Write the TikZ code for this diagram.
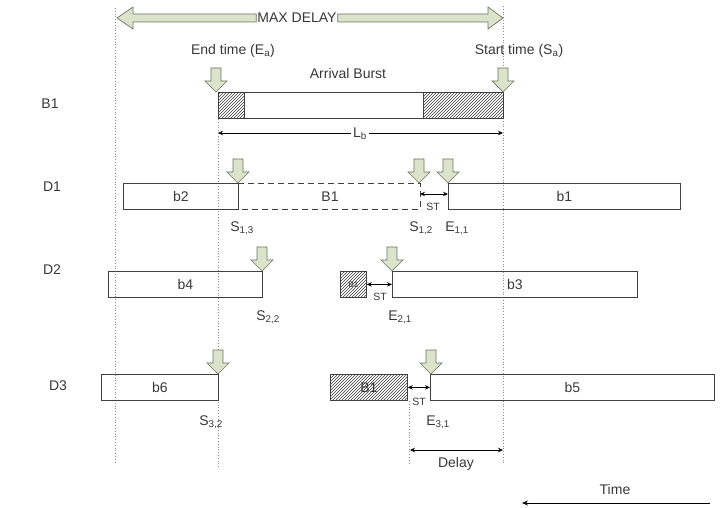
\documentclass[tikz,border=0pt]{standalone}
\usepackage{fontspec}
\setmainfont{Liberation Sans}
\usetikzlibrary{patterns,arrows.meta}
\definecolor{blkfill}{HTML}{DDE3CB}
\definecolor{blkline}{HTML}{6E7262}
\definecolor{boxline}{HTML}{404040}
\begin{document}
\begin{tikzpicture}[x=1pt,y=-1pt,
  lbl/.style={font=\fontsize{14}{16}\selectfont, text=black!78, inner sep=1pt},
  slbl/.style={font=\fontsize{10.5}{12}\selectfont, text=black!78, inner sep=0.5pt},
  box/.style={draw=boxline, line width=0.8pt, rectangle, minimum height=26pt, anchor=north west, inner sep=0pt, font=\fontsize{14}{16}\selectfont, text=black!78},
  hatch/.style={box, pattern=north east lines, pattern color=black!75},
  dots/.style={draw=black!45, line width=0.8pt, dotted},
  dimarr/.style={line width=0.9pt, {Stealth[length=5pt,width=4.5pt]}-{Stealth[length=5pt,width=4.5pt]}},
  blk/.style={fill=blkfill, draw=blkline, line width=0.7pt, line join=miter},
  dnarrow/.pic={\draw[blk] (0,0) -- (-11,-11) -- (-5,-11) -- (-5,-24) -- (5,-24) -- (5,-11) -- (11,-11) -- cycle;}
]
\useasboundingbox (0,0) rectangle (721,508);

% dotted guides
\draw[dots] (115,8) -- (115,462);
\draw[dots] (218,119) -- (218,467);
\draw[dots] (503,6) -- (503,464);
\draw[dots] (409,401) -- (409,464);

% MAX DELAY block arrow
\node[lbl] (maxd) at (297,18) {MAX DELAY};
\draw[blk] (maxd.west |- 0,14) -- (133,14) -- (133,7) -- (117,18) -- (133,29) -- (133,22) -- (maxd.west |- 0,22) -- cycle;
\draw[blk] (maxd.east |- 0,14) -- (488,14) -- (488,7) -- (503,18) -- (488,29) -- (488,22) -- (maxd.east |- 0,22) -- cycle;

% top labels
\node[lbl] (endt) at (233,51) {End time (E\textsubscript{a})};
\node[lbl] (startt) at (519,51) {Start time (S\textsubscript{a})};
\node[lbl] (arrb) at (348,73) {Arrival Burst};

% row labels
\node[lbl] (rB1) at (50,104) {B1};
\node[lbl] (rD1) at (52,187) {D1};
\node[lbl] (rD2) at (52,270) {D2};
\node[lbl] (rD3) at (58,386) {D3};

% arrival burst
\node[hatch, minimum width=26pt] (ab1) at (218,92) {};
\node[box, minimum width=179pt] (ab2) at (244,92) {};
\node[hatch, minimum width=80pt] (ab3) at (423,92) {};
\pic at (216,92) {dnarrow};
\pic at (503,92) {dnarrow};
\coordinate (lbL) at (218,133);
\coordinate (lbR) at (503,133);
\draw[dimarr] (lbL) -- (lbR);
\node[lbl, fill=white, inner sep=2pt] (lb) at (360,134) {L\textsubscript{b}};

% D1
\node[box, minimum width=115pt] (b2) at (123,183) {b2};
\draw[boxline, line width=0.8pt, dash pattern=on 6pt off 4pt] (238,183) -- (420,183) -- (420,209) -- (238,209);
\node[lbl] (B1d) at (330,197) {B1};
\node[box, minimum width=232pt] (b1) at (448,183) {b1};
\coordinate (st1a) at (420,194);
\draw[dimarr] (st1a) -- (b1.west |- st1a);
\node[slbl] (st1) at (433,207) {ST};
\pic at (238,183) {dnarrow};
\pic at (419,183) {dnarrow};
\pic at (448,183) {dnarrow};
\node[lbl] (s13) at (242,228) {S\textsubscript{1,3}};
\node[lbl] (s12) at (421,228) {S\textsubscript{1,2}};
\node[lbl] (e11) at (457,228) {E\textsubscript{1,1}};

% D2
\node[box, minimum width=154pt] (b4) at (108,271) {b4};
\node[hatch, minimum width=26pt, font=\fontsize{8}{9}\selectfont] (B1s) at (340,271) {B1};
\node[box, minimum width=245pt] (b3) at (392,271) {b3};
\draw[dimarr] (B1s.east) -- (b3.west);
\node[slbl] (st2) at (380,297) {ST};
\pic at (262,271) {dnarrow};
\pic at (392,271) {dnarrow};
\node[lbl] (s22) at (268,317) {S\textsubscript{2,2}};
\node[lbl] (e21) at (400,317) {E\textsubscript{2,1}};

% D3
\node[box, minimum width=117pt] (b6) at (101,374) {b6};
\node[hatch, minimum width=77pt] (B1b) at (330,374) {B1};
\node[box, minimum width=284pt] (b5) at (430,374) {b5};
\draw[dimarr] (B1b.east) -- (b5.west);
\node[slbl] (st3) at (419,402) {ST};
\pic at (218,374) {dnarrow};
\pic at (431,374) {dnarrow};
\node[lbl] (s32) at (211,422) {S\textsubscript{3,2}};
\node[lbl] (e31) at (438,422) {E\textsubscript{3,1}};

% Delay
\coordinate (dL) at (410,450);
\coordinate (dR) at (503,450);
\draw[dimarr] (dL) -- (dR);
\node[lbl] (delay) at (456,464) {Delay};

% Time
\coordinate (tR) at (710,503);
\coordinate (tL) at (522,503);
\draw[line width=0.9pt, -{Stealth[length=6pt,width=5pt]}] (tR) -- (tL);
\node[lbl] (time) at (615,489) {Time};
\end{tikzpicture}
\end{document}
